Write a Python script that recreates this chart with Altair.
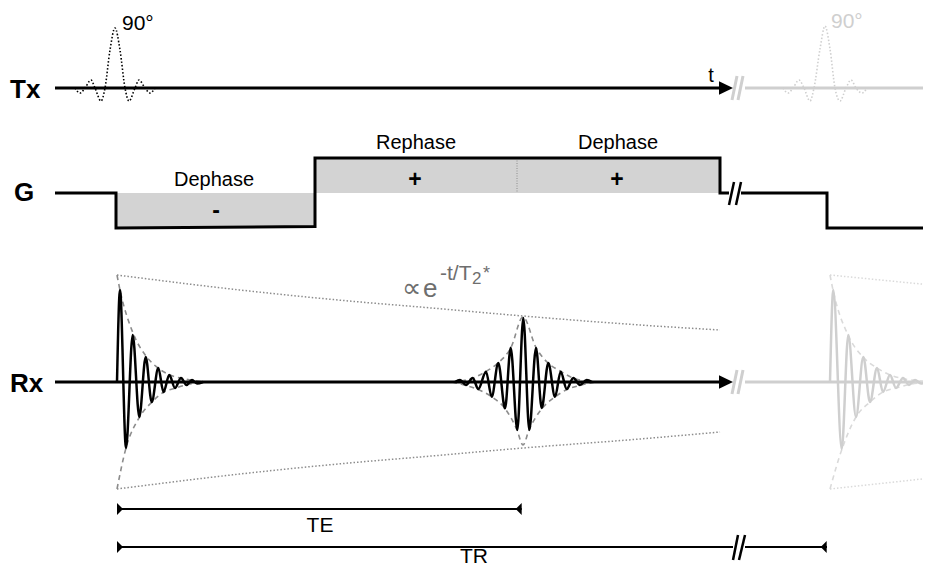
import altair as alt
import pandas as pd

# ------------------------------------------------------------------
# Data (time positions "t" and signal levels "y")
# ------------------------------------------------------------------
row_labels = ["Tx", "G", "Rx"]
row_label_t = [10, 14, 10]
row_label_y = [98, 201, 392]

# time axes of Tx and Rx (black part, then greyed repetition after the break)
tx_axis_t = [55, 720];   tx_axis_y = [88, 88]
tx_ghost_t = [745, 931]; tx_ghost_y = [88, 88]
rx_axis_t = [55, 720];   rx_axis_y = [382, 382]
rx_ghost_t = [745, 931]; rx_ghost_y = [382, 382]
arrow_t = [726, 726]; arrow_y = [88, 382]

# 90 degree RF pulse (sinc), first and repeated (grey)
tx_pulse_t = [75, 80, 85, 91, 95, 101, 105, 110, 115, 120, 125, 129, 135, 139, 145, 150, 155]
tx_pulse_y = [88, 93, 88, 80, 88, 101, 88, 50, 28, 50, 88, 101, 88, 80, 88, 93, 88]
tx_pulse2_t = [783, 788, 793, 799, 804, 810, 814, 820, 825, 830, 835, 840, 846, 851, 856, 862, 867]
tx_pulse2_y = [88, 93, 88, 80, 88, 101, 88, 49, 26, 49, 88, 101, 88, 80, 88, 93, 88]

# Gradient waveform
g_wave_t = [55, 116, 116, 315, 315, 720, 720, 729]
g_wave_y = [193, 193, 228, 226.5, 158, 158, 193, 193]
g_wave2_t = [741, 827, 827, 931]
g_wave2_y = [193, 193, 228, 228]
g_lobe_t0 = [116, 315]
g_lobe_t1 = [315, 720]
g_lobe_y0 = [193, 158]
g_lobe_y1 = [227, 193]
g_mid_t = [517, 517]
g_mid_y = [158, 193]

# Rx: FID, gradient echo, repeated FID (grey)
fid1_t = [117, 120, 126, 132.7, 139.3, 145.7, 151.7, 158.3, 163.5, 169.3, 175, 181, 186.5, 192, 197, 203]
fid1_y = [382, 290, 448, 335, 417, 357, 402, 368, 392, 375, 388, 378, 385, 380, 383.5, 382]
fid1_top_t = [117, 120, 133, 146, 158, 170, 185, 205]
fid1_top_y = [275, 290, 333, 356, 368, 375, 379, 382]
fid1_bot_t = [117, 126, 139, 152, 164, 176, 190, 205]
fid1_bot_y = [489, 448, 418, 402, 392, 388, 384, 382]

echo_t = [455, 460, 466, 472.7, 478.3, 486, 491.7, 498.3, 505, 510.7, 517.3, 523.3,
          529.3, 536, 541.7, 548.3, 555, 560.7, 566.7, 573.3, 580, 586.7, 592]
echo_y = [382, 380, 385, 378, 389, 371.7, 396.7, 363, 408.3, 347.7, 430, 318,
          430, 348, 408, 363, 396.7, 371.7, 389, 378, 385, 380, 382]
echo_top_t = [452, 473, 486, 498, 511, 523, 536, 548, 561, 573, 595]
echo_top_y = [382, 378, 371.5, 363, 347.5, 317, 347.5, 363, 371.5, 378, 382]
echo_bot_t = [452, 466, 478, 492, 505, 517, 523, 529, 542, 555, 567, 580, 595]
echo_bot_y = [382, 385.5, 389.5, 397, 408.5, 430, 445, 430, 408.5, 397, 389.5, 385.5, 382]

# T2* decay envelope (dotted)
t2_t = [117, 240, 360, 420, 523, 640, 720]
t2_top_y = [275, 290, 302, 307, 316, 325, 330]
t2_bot_y = [489, 474, 462, 457, 448, 439, 432]

fid3_t = [830, 833.3, 841.7, 848.3, 856, 863.3, 870, 877, 883, 890, 896, 903, 909, 915, 921, 927]
fid3_y = [382, 290, 449, 335, 417, 357, 402, 368, 392, 375, 388, 378, 385, 380, 383.5, 382]
fid3_top_t = [830, 833, 848, 863, 877, 890, 905, 930]
fid3_top_y = [275, 290, 335, 357, 368, 375, 379, 382]
fid3_bot_t = [830, 842, 856, 870, 883, 896, 912, 930]
fid3_bot_y = [489, 449, 417, 402, 392, 388, 384, 382]
t2b_t = [830, 931]
t2b_top_y = [275, 285]
t2b_bot_y = [489, 478]

# TE / TR spans
te_t = [117, 521.7]; te_y = [509, 509]
tr_t1 = [117, 733];  tr_t2 = [745, 827]; tr_y = [547, 547]
span_left_t = [120, 120];       span_left_y = [509, 547]
span_right_t = [518.7, 823.7];  span_right_y = [509, 547]

# "//" break marks: (t_bottom, y_bottom, t_top, y_top)
breaks_black = [(729, 205, 734, 182), (736, 205, 741, 182),
                (733, 560, 738, 535), (739, 560, 745, 535)]
breaks_grey = [(732, 100, 737, 76), (738, 100, 743, 76),
               (732, 394, 737, 370), (738, 394, 743, 370)]

# text labels
lobe_labels = ["Dephase", "Rephase", "Dephase"]
lobe_label_t = [214, 416, 618]
lobe_label_y = [186, 149, 149]
sign_labels = ["-", "+", "+"]
sign_label_t = [216, 415, 617]
sign_label_y = [218, 187, 187]

# ------------------------------------------------------------------
FONT = "Liberation Sans, Arial, Helvetica, DejaVu Sans, sans-serif"
W, H = 915, 559
xs = alt.Scale(domain=[8, 8 + W], nice=False, zero=False)
ys = alt.Scale(domain=[8, 8 + H], nice=False, zero=False, reverse=True)
X = alt.X("t:Q", scale=xs, axis=None)
Y = alt.Y("y:Q", scale=ys, axis=None)


def path(ts, ys_, color, width, dash=None, interp="linear", cap="butt"):
    df = pd.DataFrame({"t": ts, "y": ys_, "i": list(range(len(ts)))})
    kw = dict(color=color, strokeWidth=width, interpolate=interp, strokeCap=cap,
              strokeJoin="miter")
    if dash:
        kw["strokeDash"] = dash
    return alt.Chart(df).mark_line(**kw).encode(x=X, y=Y, order="i:Q")


def strokes(items, color, width):
    rows = []
    for k, (t0, y0, t1, y1) in enumerate(items):
        rows.append({"seg": k, "i": 0, "t": t0, "y": y0})
        rows.append({"seg": k, "i": 1, "t": t1, "y": y1})
    return alt.Chart(pd.DataFrame(rows)).mark_line(
        color=color, strokeWidth=width, strokeCap="butt").encode(
        x=X, y=Y, detail="seg:N", order="i:Q")


def texts(labels, ts, ys_, size, color="black", weight="normal", align="center", font=FONT):
    df = pd.DataFrame({"t": ts, "y": ys_, "label": labels})
    return alt.Chart(df).mark_text(fontSize=size, fontWeight=weight, align=align,
                                   baseline="alphabetic", color=color, font=font).encode(
        x=X, y=Y, text="label:N")


def heads(ts, ys_, shape, size, color="black"):
    df = pd.DataFrame({"t": ts, "y": ys_})
    return alt.Chart(df).mark_point(shape=shape, size=size, filled=True, color=color,
                                    opacity=1, strokeWidth=0).encode(x=X, y=Y)


DOT = [1.5, 2]
DASH = [5, 4]
GREY = "#8c8c8c"
GHOST = "#cfcfcf"
GHOST2 = "#dadada"
FORMULA = "#6e6e6e"

lobes = alt.Chart(pd.DataFrame({"t": g_lobe_t0, "t2": g_lobe_t1, "y": g_lobe_y0, "y2": g_lobe_y1})
                  ).mark_rect(color="#d3d3d3").encode(
    x=X, x2="t2:Q", y=Y, y2="y2:Q")

layers = [
    lobes,
    path(g_mid_t, g_mid_y, GREY, 1, dash=[1, 1.5]),
    # ghost repetition
    path(tx_ghost_t, tx_ghost_y, GHOST, 3),
    path(rx_ghost_t, rx_ghost_y, GHOST, 3),
    strokes(breaks_grey, GHOST, 3),
    path(tx_pulse2_t, tx_pulse2_y, GHOST, 1.6, dash=DOT, interp="monotone"),
    path(t2b_t, t2b_top_y, GHOST2, 1.5, dash=DOT),
    path(t2b_t, t2b_bot_y, GHOST2, 1.5, dash=DOT),
    path(fid3_top_t, fid3_top_y, GHOST2, 1.6, dash=DASH, interp="monotone"),
    path(fid3_bot_t, fid3_bot_y, GHOST2, 1.6, dash=DASH, interp="monotone"),
    path(fid3_t, fid3_y, GHOST, 2.5, interp="monotone"),
    # T2* envelope
    path(t2_t, t2_top_y, GREY, 1.5, dash=DOT, interp="monotone"),
    path(t2_t, t2_bot_y, GREY, 1.5, dash=DOT, interp="monotone"),
    path(fid1_top_t, fid1_top_y, GREY, 1.6, dash=DASH, interp="monotone"),
    path(fid1_bot_t, fid1_bot_y, GREY, 1.6, dash=DASH, interp="monotone"),
    path(echo_top_t, echo_top_y, GREY, 1.6, dash=DASH, interp="monotone"),
    path(echo_bot_t, echo_bot_y, GREY, 1.6, dash=DASH, interp="monotone"),
    # axes
    path(tx_axis_t, tx_axis_y, "black", 3),
    path(rx_axis_t, rx_axis_y, "black", 3),
    heads(arrow_t, arrow_y, "M-1,-0.95L1,0L-1,0.95Z", 196),
    path(tx_pulse_t, tx_pulse_y, "black", 1.6, dash=DOT, interp="monotone"),
    path(g_wave_t, g_wave_y, "black", 3),
    path(g_wave2_t, g_wave2_y, "black", 3),
    strokes(breaks_black, "black", 2.5),
    path(fid1_t, fid1_y, "black", 2.5, interp="monotone"),
    path(echo_t, echo_y, "black", 2.5, interp="monotone"),
    # TE / TR
    path(te_t, te_y, "black", 2),
    path(tr_t1, tr_y, "black", 2),
    path(tr_t2, tr_y, "black", 2),
    heads(span_left_t, span_left_y, "M-0.5,-1L0.5,0L-0.5,1Z", 144),
    heads(span_right_t, span_right_y, "M0.5,-1L-0.5,0L0.5,1Z", 144),
    # texts
    texts(row_labels, row_label_t, row_label_y, 26, weight="bold", align="left"),
    texts(lobe_labels, lobe_label_t, lobe_label_y, 20),
    texts(sign_labels, sign_label_t, sign_label_y, 23, weight="bold"),
    texts(["t"], [711], [82], 20),
    texts(["90°"], [122], [30], 21, align="left"),
    texts(["90°"], [831], [28], 21, align="left", color=GHOST),
    texts(["TE"], [320], [532], 21),
    texts(["TR"], [474], [563], 21),
    texts(["\u221d"], [402], [297], 27, color=FORMULA, align="left"),
    texts(["e"], [423], [297], 26, color=FORMULA, align="left"),
    texts(["-t/T"], [440], [280], 21, color=FORMULA, align="left"),
    texts(["2"], [472], [284], 17, color=FORMULA, align="left"),
    texts(["*"], [483], [279], 18, color=FORMULA, align="left"),
]

chart = alt.layer(*layers).properties(
    width=W, height=H, padding=0, background="white",
    autosize=alt.AutoSizeParams(type="none"),
).configure_view(strokeWidth=0)

chart.save("out.html", embed_options={"renderer": "svg", "actions": False})
